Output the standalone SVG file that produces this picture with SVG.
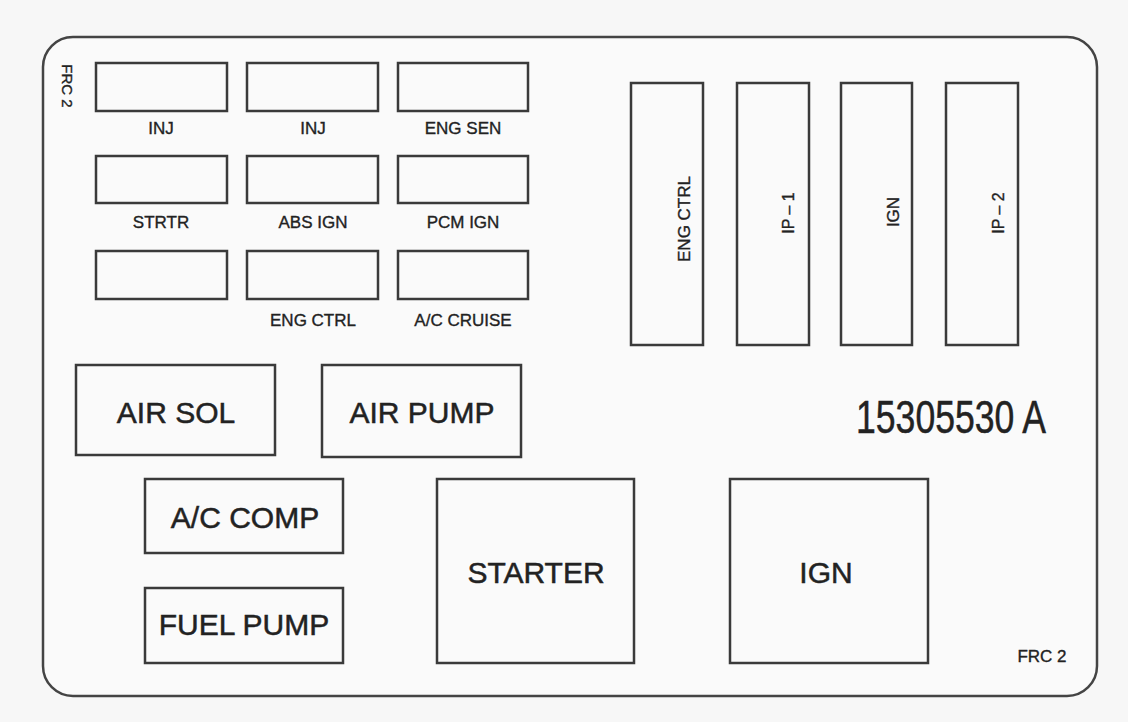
<svg xmlns="http://www.w3.org/2000/svg" width="1128" height="722" viewBox="0 0 1128 722">
<style>
.box{fill:none;stroke:#3a3a3a;stroke-width:2.5}
.sm{font-family:"Liberation Sans",Arial,sans-serif;font-size:17px;fill:#222;stroke:#222;stroke-width:0.35;text-anchor:middle}
.lg{font-family:"Liberation Sans",Arial,sans-serif;font-size:30px;fill:#222;stroke:#222;stroke-width:0.5;text-anchor:middle}
.rt{font-family:"Liberation Sans",Arial,sans-serif;font-size:17px;fill:#222;stroke:#222;stroke-width:0.35;text-anchor:middle}
</style>
<rect x="0" y="0" width="1128" height="722" fill="#f7f7f7"/>
<g id="housing">
<rect x="43" y="37" width="1054" height="659" rx="30" ry="30" fill="#fafafa" stroke="#444" stroke-width="2.5"/>
<text class="sm" style="font-size:15px" transform="translate(62,86) rotate(90)">FRC 2</text>
<text class="sm" x="1042" y="662">FRC 2</text>
<text class="lg" style="font-size:46px" x="951" y="433" textLength="190" lengthAdjust="spacingAndGlyphs">15305530 A</text>
</g>
<g id="fuse-inj-1"><rect class="box" x="96" y="63" width="131" height="48"/><text class="sm" x="161" y="134">INJ</text></g>
<g id="fuse-inj-2"><rect class="box" x="247" y="63" width="131" height="48"/><text class="sm" x="313" y="134">INJ</text></g>
<g id="fuse-eng-sen"><rect class="box" x="398" y="63" width="130" height="48"/><text class="sm" x="463" y="134">ENG SEN</text></g>
<g id="fuse-strtr"><rect class="box" x="96" y="156" width="131" height="47"/><text class="sm" x="161" y="228">STRTR</text></g>
<g id="fuse-abs-ign"><rect class="box" x="247" y="156" width="131" height="47"/><text class="sm" x="313" y="228">ABS IGN</text></g>
<g id="fuse-pcm-ign"><rect class="box" x="398" y="156" width="130" height="47"/><text class="sm" x="463" y="228">PCM IGN</text></g>
<g id="fuse-blank"><rect class="box" x="96" y="251" width="131" height="48"/></g>
<g id="fuse-eng-ctrl"><rect class="box" x="247" y="251" width="131" height="48"/><text class="sm" x="313" y="326">ENG CTRL</text></g>
<g id="fuse-ac-cruise"><rect class="box" x="398" y="251" width="130" height="48"/><text class="sm" x="463" y="326">A/C CRUISE</text></g>
<g id="maxi-eng-ctrl"><rect class="box" x="631" y="83" width="72" height="262"/><text class="rt" transform="translate(690,219) rotate(-90)">ENG CTRL</text></g>
<g id="maxi-ip-1"><rect class="box" x="737" y="83" width="72" height="262"/><text class="rt" style="font-size:16px" transform="translate(794,213) rotate(-90)">IP – 1</text></g>
<g id="maxi-ign"><rect class="box" x="841" y="83" width="71" height="262"/><text class="rt" transform="translate(899,212) rotate(-90)">IGN</text></g>
<g id="maxi-ip-2"><rect class="box" x="946" y="83" width="72" height="262"/><text class="rt" style="font-size:16px" transform="translate(1004,213) rotate(-90)">IP – 2</text></g>
<g id="relay-air-sol"><rect class="box" x="76" y="365" width="199" height="90"/><text class="lg" x="176" y="423">AIR SOL</text></g>
<g id="relay-air-pump"><rect class="box" x="322" y="365" width="199" height="92"/><text class="lg" x="422" y="423">AIR PUMP</text></g>
<g id="relay-ac-comp"><rect class="box" x="145" y="479" width="198" height="74"/><text class="lg" x="245" y="528">A/C COMP</text></g>
<g id="relay-fuel-pump"><rect class="box" x="145" y="588" width="198" height="75"/><text class="lg" x="244" y="635">FUEL PUMP</text></g>
<g id="relay-starter"><rect class="box" x="437" y="479" width="197" height="184"/><text class="lg" x="536" y="583">STARTER</text></g>
<g id="relay-ign"><rect class="box" x="730" y="479" width="198" height="184"/><text class="lg" x="826" y="583">IGN</text></g>
<g id="connectors"/>
</svg>
